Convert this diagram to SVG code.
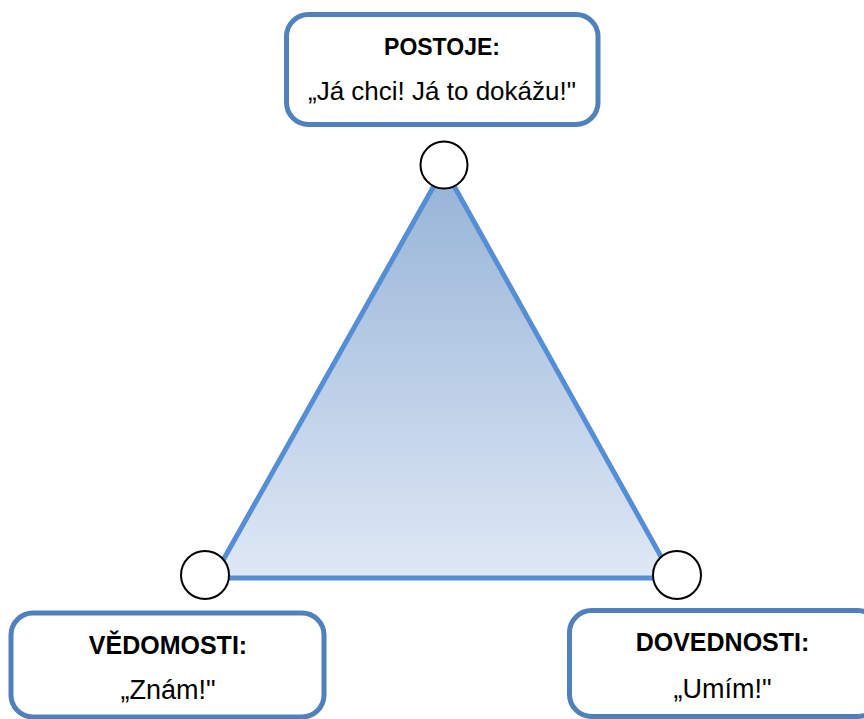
<svg xmlns="http://www.w3.org/2000/svg" width="864" height="719" viewBox="0 0 864 719">
<style>
.box{fill:#fff;stroke:#4F81BD;stroke-width:5}
.circ{fill:#fff;stroke:#000;stroke-width:2}
.t{font-family:"Liberation Sans",Arial,sans-serif;fill:#000;text-anchor:middle}
.b{font-weight:bold;font-size:25px}
.b2{font-weight:bold;font-size:23px}
.r{font-size:26px}
.r2{font-size:27px}
</style>
<defs>
<linearGradient id="g" x1="0" y1="0" x2="0" y2="1">
<stop offset="0" stop-color="#95B3D7"/>
<stop offset="1" stop-color="#DFE8F5"/>
</linearGradient>
</defs>
<g id="connectors">
<polygon points="444,168 213,578 673,578" fill="url(#g)" stroke="#558ED5" stroke-width="5" stroke-linejoin="round"/>
</g>
<g id="circle-top"><circle class="circ" cx="444" cy="165" r="23.5"/></g>
<g id="circle-left"><circle class="circ" cx="205" cy="575" r="24"/></g>
<g id="circle-right"><circle class="circ" cx="677" cy="575" r="24"/></g>
<g id="postoje">
<rect class="box" x="286.5" y="14.5" width="311.5" height="110" rx="22"/>
<text class="t b2" x="442" y="55">POSTOJE:</text>
<text class="t r" x="442" y="100">„Já chci! Já to dokážu!"</text>
</g>
<g id="vedomosti">
<rect class="box" x="11" y="613" width="313" height="104" rx="22"/>
<text class="t b" x="168" y="654">VĚDOMOSTI:</text>
<text class="t r2" x="168" y="699">„Znám!"</text>
</g>
<g id="dovednosti">
<rect class="box" x="569.5" y="610.5" width="310" height="106" rx="22"/>
<text class="t b" x="722.5" y="651">DOVEDNOSTI:</text>
<text class="t r2" x="722.5" y="698">„Umím!"</text>
</g>
</svg>
